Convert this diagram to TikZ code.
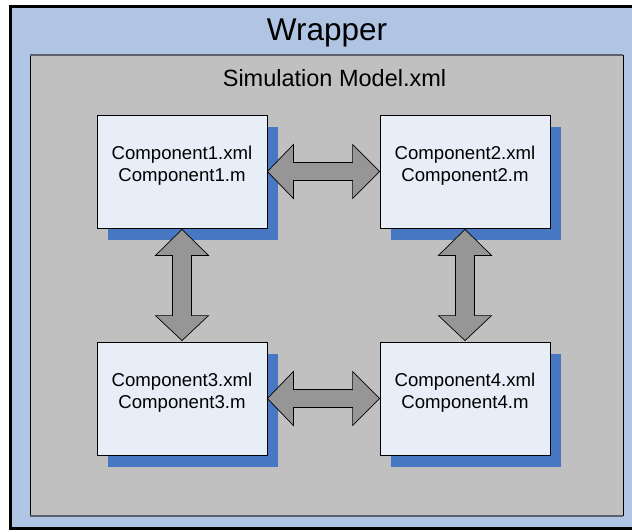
\documentclass[tikz,border=0pt]{standalone}
\usepackage{fontspec}
\setmainfont{Liberation Sans}
\usetikzlibrary{calc}
\definecolor{wrapblue}{HTML}{B0C4E3}
\definecolor{modelgray}{HTML}{C0C0C0}
\definecolor{boxfill}{HTML}{E8EEF8}
\definecolor{shadowblue}{HTML}{4878C2}
\definecolor{arrowgray}{HTML}{969696}
\definecolor{slateedge}{HTML}{5A6070}
\tikzset{
  comp/.style={draw=black, line width=0.8pt, fill=boxfill, minimum width=170pt, minimum height=113pt, inner sep=0pt},
  ctext/.style={align=center, font=\fontsize{18.6}{21.7}\selectfont, inner sep=0pt},
  dbl/.style={fill=arrowgray, draw=black, line width=0.7pt, line join=miter},
  edge2/.style={draw=slateedge, line width=2pt},
}
\begin{document}
\begin{tikzpicture}[x=1pt,y=-1pt]
\useasboundingbox (0,0) rectangle (632,532);
\fill[white] (0,0) rectangle (632,532);
\clip (0,0) rectangle (632,532);
% wrapper
\draw[fill=wrapblue, draw=black, line width=3pt] (10.5,6.5) rectangle (650,528.5);
\node[font=\fontsize{31.5}{36}\selectfont, anchor=base, inner sep=0pt] (wrap) at (327,41) {Wrapper};
% model
\draw[fill=modelgray, draw=black, line width=1pt] (30,55.5) rectangle (623,515.5);
\draw[edge2] (30,55.5) -- (623,55.5);
\draw[edge2] (30,515.5) -- (623,515.5);
\node[font=\fontsize{23.5}{28}\selectfont, anchor=base, inner sep=0pt] (model) at (334.5,87) {Simulation Model.xml};
% shadows
\foreach \cx/\cy in {182/171.5, 465/171.5, 182/398.5, 465/398.5}{
  \fill[shadowblue] (\cx-85+11,\cy-56.5+12) rectangle (\cx+85+11,\cy+56.5+12);
}
% component boxes
\node[comp] (c1) at (182,171.5) {};
\node[comp] (c2) at (465,171.5) {};
\node[comp] (c3) at (182,398.5) {};
\node[comp] (c4) at (465,398.5) {};
\node[ctext] (t1) at ($(c1.center)+(0,-5.5)$) {Component1.xml\\Component1.m};
\node[ctext] (t2) at ($(c2.center)+(0,-5.5)$) {Component2.xml\\Component2.m};
\node[ctext] (t3) at ($(c3.center)+(0,-5.5)$) {Component3.xml\\Component3.m};
\node[ctext] (t4) at ($(c4.center)+(0,-5.5)$) {Component4.xml\\Component4.m};
% horizontal double arrows
\foreach \a/\b in {c1/c2, c3/c4}{
  \draw[dbl] (\a.east) -- ($(\a.east)+(26,-27)$) -- ($(\a.east)+(26,-9)$)
    -- ($(\b.west)+(-27,-9)$) -- ($(\b.west)+(-27,-27)$) -- (\b.west)
    -- ($(\b.west)+(-27,27)$) -- ($(\b.west)+(-27,9)$)
    -- ($(\a.east)+(26,9)$) -- ($(\a.east)+(26,27)$) -- cycle;
}
% vertical double arrows
\foreach \a/\b in {c1/c3, c2/c4}{
  \draw[dbl] ($(\a.south)+(0,1)$) -- ($(\a.south)+(26.5,27)$) -- ($(\a.south)+(9.5,27)$)
    -- ($(\b.north)+(9.5,-26)$) -- ($(\b.north)+(26.5,-26)$) -- ($(\b.north)+(0,-1)$)
    -- ($(\b.north)+(-26.5,-26)$) -- ($(\b.north)+(-9.5,-26)$)
    -- ($(\a.south)+(-9.5,27)$) -- ($(\a.south)+(-26.5,27)$) -- cycle;
}
\end{tikzpicture}
\end{document}
